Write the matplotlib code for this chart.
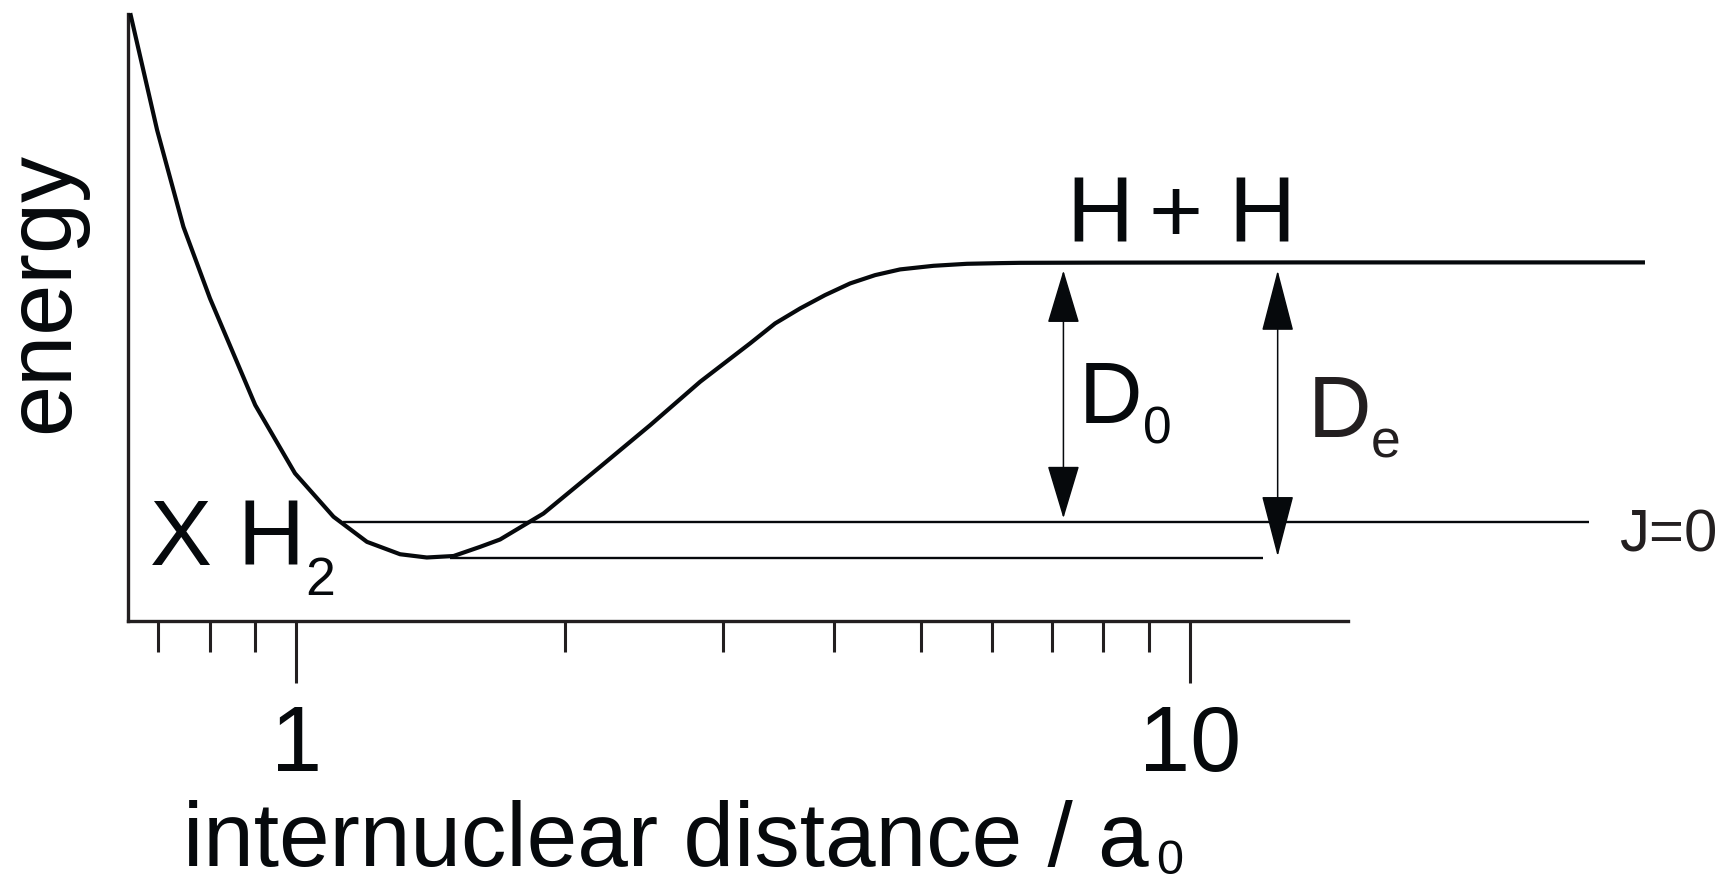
import matplotlib
matplotlib.use("Agg")
import matplotlib.pyplot as plt
from matplotlib.patches import ArrowStyle
from matplotlib.ticker import FixedLocator, NullFormatter

plt.rcParams['font.family'] = ['Liberation Sans', 'DejaVu Sans']

# ---- data -----------------------------------------------------------------
# potential energy curve of the H2 ground state (energy relative to H + H,
# in units of the well depth), internuclear distance in bohr
r_curve = [0.653, 0.699, 0.748, 0.801, 0.900, 0.997, 1.101, 1.200, 1.307,
           1.400, 1.500, 1.606, 1.691, 1.891, 2.188, 2.489, 2.831, 3.220,
           3.434, 3.663, 3.905, 4.166, 4.443, 4.738, 5.163, 5.627, 6.131,
           6.453, 7.93, 13.27, 32.1]
e_curve = [0.837, 0.448, 0.1205, -0.122, -0.483, -0.714, -0.861, -0.946,
           -0.988, -0.999, -0.994, -0.963, -0.938, -0.850, -0.692, -0.551,
           -0.404, -0.274, -0.2065, -0.1557, -0.1107, -0.0711, -0.0430,
           -0.0237, -0.0115, -0.0047, -0.0024, -0.0014, -0.0007, 0.0, 0.0]

D0 = 0.879          # dissociation energy from the J=0 level
De = 1.0            # well depth
level_j0_r = [1.129, 27.94]     # extent of the J=0 level line
level_min_r = [1.487, 12.07]    # extent of the well-bottom line
arrow_d0_r = 7.216
arrow_de_r = 12.53

xtick_major = [1, 10]
xtick_labels = ['1', '10']
xtick_minor = [0.7, 0.8, 0.9, 2, 3, 4, 5, 6, 7, 8, 9]

# ---- figure -----------------------------------------------------------------
W, H = 1725, 883
fig = plt.figure(figsize=(W / 100, H / 100), dpi=100)


def fpos(x, y):
    return x / W, 1 - y / H


ink = '#06090c'
axc = '#231f20'

ax = fig.add_axes([128.3 / W, 1 - 621 / H, (W - 128.3) / W, (621 - 14) / H])
ax.set_xscale('log')
ax.set_xlim(0.649, 39.66)
ax.set_ylim(-1.214, 0.841)

ax.plot(r_curve, e_curve, color=ink, lw=3.0, clip_on=False,
        solid_joinstyle='round', zorder=3)
ax.hlines(-D0, *level_j0_r, color=ink, lw=1.7)
ax.hlines(-De, *level_min_r, color=ink, lw=1.7)

for r, depth, hl, sa in [(arrow_d0_r, D0, 34.6, 2.7), (arrow_de_r, De, 40.0, 1.0)]:
    ax.annotate('', xy=(r, 0.0), xytext=(r, -depth),
                arrowprops=dict(arrowstyle=ArrowStyle('<|-|>', head_length=hl,
                                                      head_width=10.4),
                                mutation_scale=1, shrinkA=sa, shrinkB=5.8,
                                lw=1.1, color=ink))

# axes frame
for s in ('top', 'right'):
    ax.spines[s].set_visible(False)
for s in ('left', 'bottom'):
    ax.spines[s].set_linewidth(2.4)
    ax.spines[s].set_color(axc)
    ax.spines[s].set_capstyle('projecting')
ax.spines['bottom'].set_bounds(0.649, 15.0)
ax.set_yticks([])
ax.xaxis.set_major_locator(FixedLocator(xtick_major))
ax.set_xticklabels(xtick_labels)
ax.xaxis.set_minor_locator(FixedLocator(xtick_minor))
ax.xaxis.set_minor_formatter(NullFormatter())
ax.tick_params(axis='x', which='major', direction='out', length=44.6,
               width=2.2, color=axc, pad=15, labelsize=66.2, labelcolor=ink)
ax.tick_params(axis='x', which='minor', direction='out', length=22.3,
               width=2.2, color=axc)

# ---- labels -----------------------------------------------------------------
fig.text(*fpos(68, 292.5), 'energy', rotation=90, rotation_mode='anchor',
         ha='center', va='baseline', fontsize=66.2, color=ink)
fig.text(*fpos(183, 866), 'internuclear distance / a', ha='left',
         va='baseline', fontsize=65.5, color=ink)
fig.text(*fpos(1156, 874), '0', ha='left', va='baseline', fontsize=35,
         color=ink)

# dissociation limit label, letters placed individually for tight spacing
fig.text(*fpos(1066.7, 242.3), 'H', ha='left', va='baseline',
         fontsize=66.7, color=ink)
fig.text(*fpos(1176, 242.3), '+', ha='center', va='baseline',
         fontsize=66.7, color=ink)
fig.text(*fpos(1228.7, 242.3), 'H', ha='left', va='baseline',
         fontsize=66.7, color=ink)

fig.text(*fpos(1079, 423), 'D', ha='left', va='baseline', fontsize=63.4,
         color=ink)
fig.text(*fpos(1143, 443.5), '0', ha='left', va='baseline', fontsize=37.2,
         color=ink)
fig.text(*fpos(1308, 437), 'D', ha='left', va='baseline', fontsize=63.4,
         color=axc)
fig.text(*fpos(1371, 457), 'e', ha='left', va='baseline', fontsize=38.5,
         color=axc)

fig.text(*fpos(149.5, 565), 'X H', ha='left', va='baseline', fontsize=67,
         color=ink)
fig.text(*fpos(305, 595), '2', ha='left', va='baseline', fontsize=38.5,
         color=ink)

fig.text(*fpos(1619, 551), 'J=0', ha='left', va='baseline', fontsize=43.2,
         color=axc)

fig.savefig('out.png', dpi=100, facecolor='white')
